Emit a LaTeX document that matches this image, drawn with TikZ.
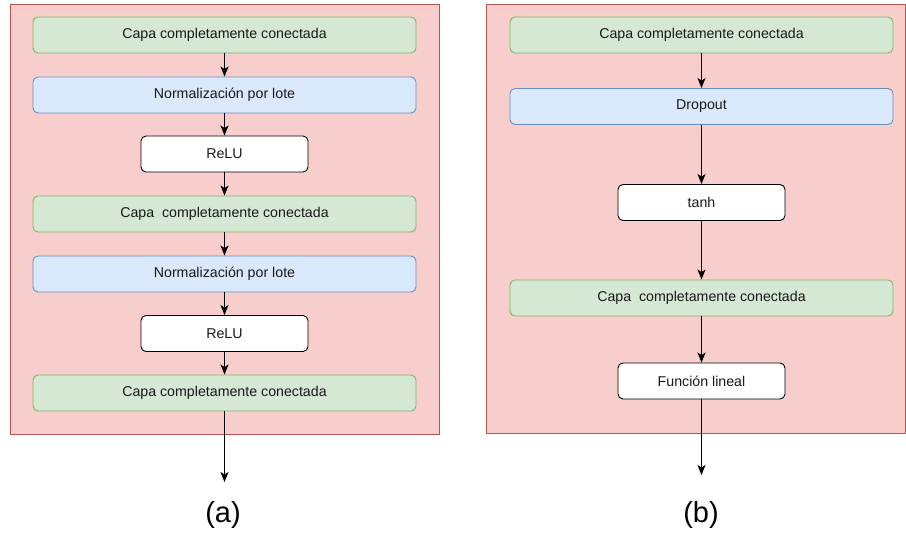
\documentclass[tikz,border=0pt]{standalone}
\usepackage{fontspec}
\setmainfont{Liberation Sans}
\usetikzlibrary{arrows.meta}
\definecolor{panelfill}{HTML}{F8CECC}
\definecolor{panelline}{HTML}{B85450}
\definecolor{greenfill}{HTML}{D5E8D4}
\definecolor{greenline}{HTML}{82B366}
\definecolor{bluefill}{HTML}{DAE8FC}
\definecolor{blueline}{HTML}{6C8EBF}
\tikzset{
  box/.style={draw, rounded corners=5pt, line width=0.9pt, minimum height=36pt,
    inner sep=0pt, font=\fontsize{14.2}{17}\selectfont, text=black!90},
  fcbox/.style={box, fill=greenfill, draw=greenline, minimum width=383pt},
  normbox/.style={box, fill=bluefill, draw=blueline, minimum width=383pt},
  actbox/.style={box, fill=white, draw=black, minimum width=167pt},
  panel/.style={fill=panelfill, draw=panelline, line width=1pt},
  flow/.style={-{Stealth[length=10pt,width=8pt,inset=2.5pt]}, line width=1.1pt},
  caption/.style={font=\fontsize{29}{33}\selectfont}
}
\begin{document}
\begin{tikzpicture}[x=1pt,y=-1pt]
\useasboundingbox (0,0) rectangle (906,534);

% background panels
\draw[panel] (10,5) rectangle (439,435);
\draw[panel] (486,5) rectangle (905.5,434);

% left network
\node[fcbox]   (g1) at (224.5,35)    {Capa completamente conectada};
\node[normbox] (b1) at (224.5,95)    {Normalización por lote};
\node[actbox]  (r1) at (224.5,154)   {ReLU};
\node[fcbox]   (g2) at (224.5,214)   {Capa\ \ completamente conectada};
\node[normbox] (b2) at (224.5,274)   {Normalización por lote};
\node[actbox]  (r2) at (224.5,333.5) {ReLU};
\node[fcbox]   (g3) at (224.5,393)   {Capa completamente conectada};
\coordinate (outa) at (224.5,482);
\node[caption] (capa) at (223,515) {(a)};

\draw[flow] (g1) -- (b1);
\draw[flow] (b1) -- (r1);
\draw[flow] (r1) -- (g2);
\draw[flow] (g2) -- (b2);
\draw[flow] (b2) -- (r2);
\draw[flow] (r2) -- (g3);
\draw[flow] (g3) -- (outa);

% right network
\node[fcbox]   (h1) at (701.5,35)    {Capa completamente conectada};
\node[normbox] (d1) at (701.5,106.5) {Dropout};
\node[actbox]  (t1) at (701.5,202.5) {tanh};
\node[fcbox]   (h2) at (701.5,298)   {Capa\ \ completamente conectada};
\node[actbox]  (f1) at (701.5,381)   {Función lineal};
\coordinate (outb) at (701.5,475);
\node[caption] (capb) at (701,515) {(b)};

\draw[flow] (h1) -- (d1);
\draw[flow] (d1) -- (t1);
\draw[flow] (t1) -- (h2);
\draw[flow] (h2) -- (f1);
\draw[flow] (f1) -- (outb);
\end{tikzpicture}
\end{document}
